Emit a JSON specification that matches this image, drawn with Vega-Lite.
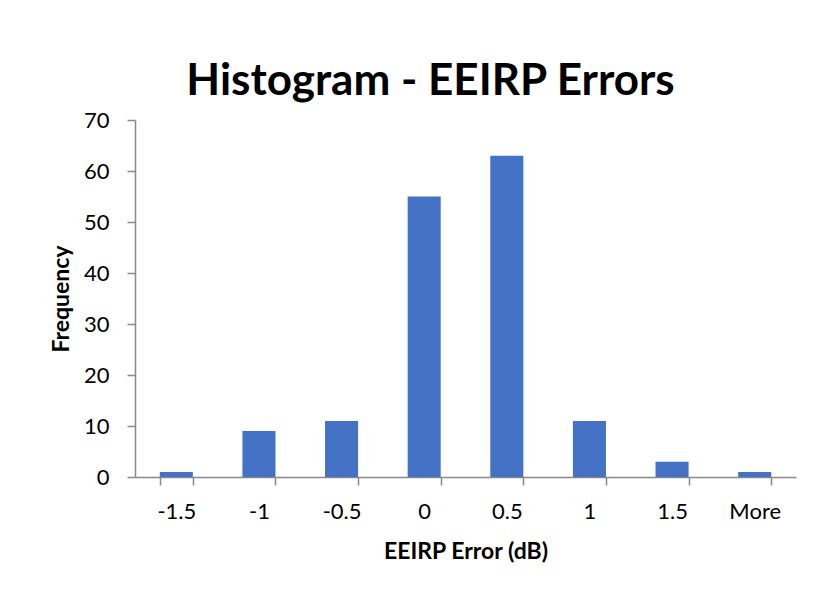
{
  "$schema": "https://vega.github.io/schema/vega-lite/v6.json",
  "autosize": {"type": "none"},
  "padding": {"left": 135, "top": 120, "right": 19, "bottom": 120},
  "width": 661,
  "height": 357,
  "background": "white",
  "title": {
    "text": "Histogram - EEIRP Errors",
    "font": "Lato",
    "fontSize": 44,
    "fontWeight": "bold",
    "color": "#000000",
    "anchor": "middle",
    "dx": -35,
    "offset": 5
  },
  "data": {
    "values": [
      {"bin": "-1.5", "Frequency": 1},
      {"bin": "-1", "Frequency": 9},
      {"bin": "-0.5", "Frequency": 11},
      {"bin": "0", "Frequency": 55},
      {"bin": "0.5", "Frequency": 63},
      {"bin": "1", "Frequency": 11},
      {"bin": "1.5", "Frequency": 3},
      {"bin": "More", "Frequency": 1}
    ]
  },
  "mark": {"type": "bar", "color": "#4472C4"},
  "encoding": {
    "x": {
      "field": "bin",
      "type": "ordinal",
      "sort": null,
      "scale": {"paddingInner": 0.6, "paddingOuter": 0.3},
      "axis": {
        "title": "EEIRP Error (dB)",
        "labelAngle": 0,
        "tickBand": "extent",
        "labelFont": "Lato",
        "labelFontSize": 22,
        "labelColor": "#000000",
        "labelPadding": 16,
        "titleFont": "Lato",
        "titleFontSize": 23,
        "titleFontWeight": "bold",
        "titleColor": "#000000",
        "titlePadding": 18,
        "domainColor": "#898989",
        "domainWidth": 1.5,
        "tickColor": "#898989",
        "tickWidth": 1.5,
        "tickSize": 8
      }
    },
    "y": {
      "field": "Frequency",
      "type": "quantitative",
      "scale": {"domain": [0, 70]},
      "axis": {
        "title": "Frequency",
        "values": [0, 10, 20, 30, 40, 50, 60, 70],
        "grid": false,
        "labelFont": "Lato",
        "labelFontSize": 22,
        "labelColor": "#000000",
        "labelPadding": 18,
        "titleFont": "Lato",
        "titleFontSize": 23,
        "titleFontWeight": "bold",
        "titleColor": "#000000",
        "titlePadding": 10,
        "domainColor": "#898989",
        "domainWidth": 1.5,
        "tickColor": "#898989",
        "tickWidth": 1.5,
        "tickSize": 8
      }
    }
  },
  "config": {"view": {"stroke": null}}
}
